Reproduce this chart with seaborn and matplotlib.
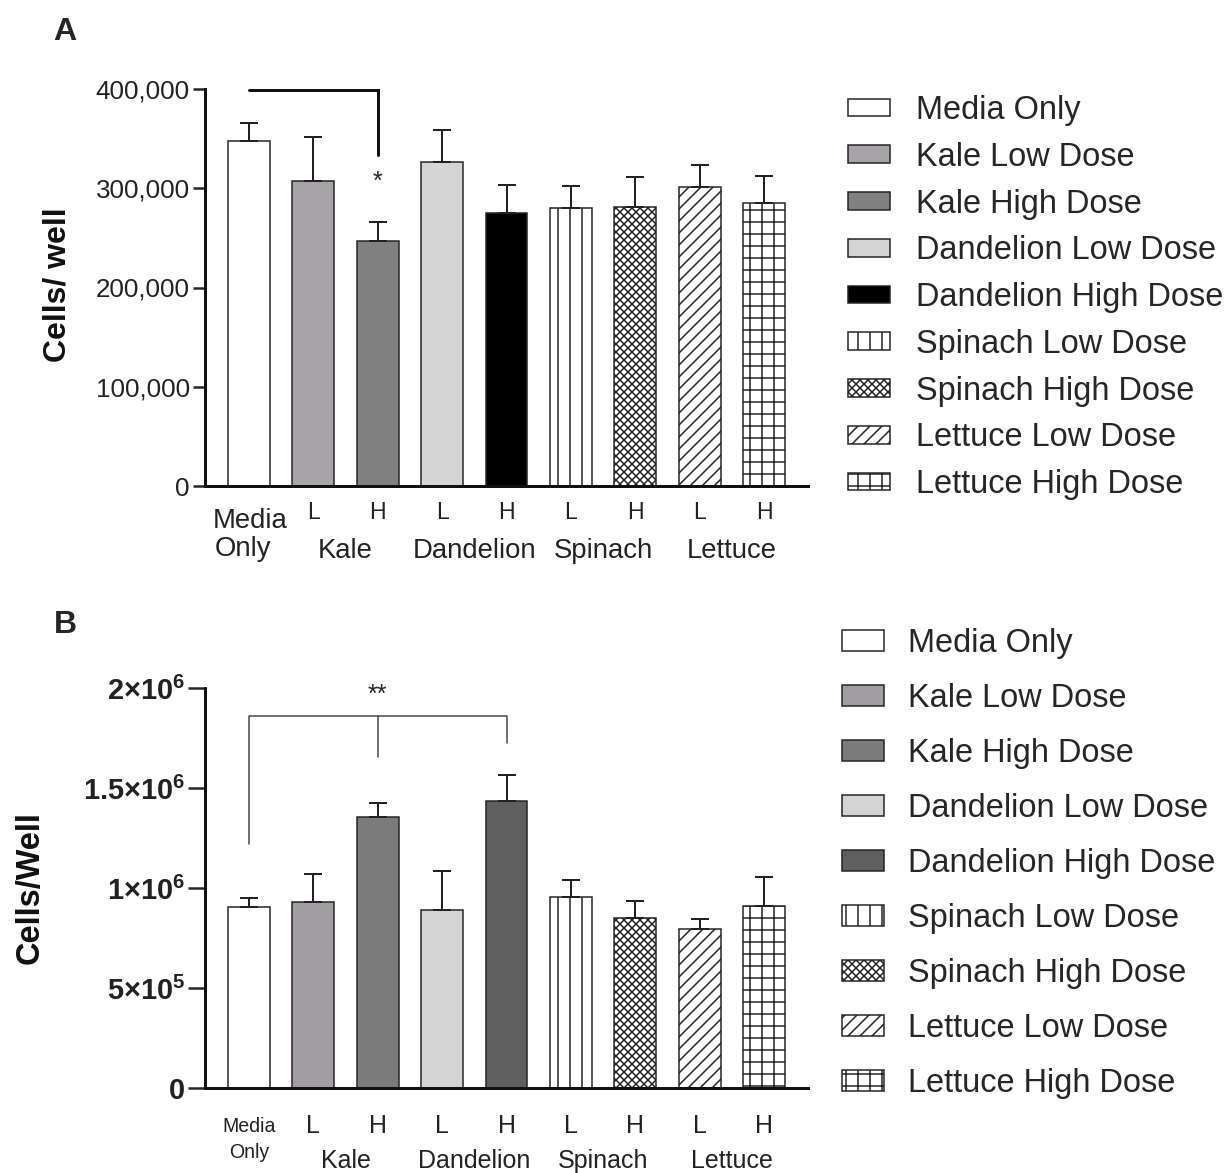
import matplotlib
matplotlib.use("Agg")
import matplotlib.pyplot as plt
import matplotlib.transforms as mtrans
import seaborn as sns
import pandas as pd
import numpy as np

# ---- data ----
groups = ["Media Only", "Kale Low Dose", "Kale High Dose", "Dandelion Low Dose",
          "Dandelion High Dose", "Spinach Low Dose", "Spinach High Dose",
          "Lettuce Low Dose", "Lettuce High Dose"]
dose_row = ["", "L", "H", "L", "H", "L", "H", "L", "H"]
plant_names = ["Kale", "Dandelion", "Spinach", "Lettuce"]
plant_pos = [1.5, 3.5, 5.5, 7.5]

cells_a = [348000, 307000, 246500, 326500, 275000, 280000, 281000, 301000, 285000]
err_a = [18000, 45000, 19500, 32500, 28000, 22000, 30000, 22000, 27000]
ticks_a = [0, 100000, 200000, 300000, 400000]
ticklabels_a = ["0", "100,000", "200,000", "300,000", "400,000"]

cells_b = [905000, 931000, 1356000, 889000, 1434000, 953000, 851000, 796000, 911000]
err_b = [47000, 137000, 70000, 195000, 129000, 86000, 85000, 50000, 142000]
ticks_b = [0, 500000, 1000000, 1500000, 2000000]
ticklabels_b = [r"$\mathbf{0}$", r"$\mathbf{5{\times}10^{5}}$", r"$\mathbf{1{\times}10^{6}}$",
                r"$\mathbf{1.5{\times}10^{6}}$", r"$\mathbf{2{\times}10^{6}}$"]

fills_a = ["white", "#a7a3a8", "#808080", "#d4d4d4", "black", "white", "white", "white", "white"]
fills_b = ["white", "#a19da3", "#7b7b7b", "#d4d4d4", "#5f5f5f", "white", "white", "white", "white"]
hatches = ["", "", "", "", "", "|", "xxx", "//", "+"]

sns.set_style("ticks")
plt.rcParams["font.family"] = ["Liberation Sans", "DejaVu Sans"]
plt.rcParams["mathtext.fontset"] = "custom"
plt.rcParams["mathtext.rm"] = "Liberation Sans"
plt.rcParams["mathtext.bf"] = "Liberation Sans:bold"
plt.rcParams["hatch.linewidth"] = 1.5

W, H = 1231, 1173
fig = plt.figure(figsize=(W / 72, H / 72), dpi=72)
TXT = "#222222"


def fy(py):
    return 1 - py / H


def draw_panel(ax, values, errs, fills):
    df = pd.DataFrame({"group": groups, "cells": values})
    sns.barplot(data=df, x="group", y="cells", hue="group", order=groups, hue_order=groups,
                palette=fills, width=0.65, edgecolor="#222222", linewidth=1.5,
                errorbar=None, legend=False, dodge=False, ax=ax)
    for patch, h in zip(ax.patches, hatches):
        patch.set_hatch(h)
    ax.errorbar(range(len(groups)), values, yerr=[np.zeros(len(errs)), errs], fmt="none",
                ecolor="#222222", elinewidth=2, capsize=9, capthick=2, zorder=1)
    ax.set_xlim(-0.68, 8.68)
    sns.despine(ax=ax)
    for s in ["left", "bottom"]:
        ax.spines[s].set_linewidth(3)
        ax.spines[s].set_color("#111111")
    ax.set_xlabel("")
    ax.set_ylabel("")
    ax.set_xticks(range(len(groups)))
    ax.set_xticklabels([])
    ax.tick_params(axis="x", length=0)
    return ax


# ---------------- panel A ----------------
ax1 = fig.add_axes([205 / W, fy(486), (808 - 205) / W, (486 - 89) / H])
draw_panel(ax1, cells_a, err_a, fills_a)
ax1.set_ylim(0, 400000)
ax1.set_yticks(ticks_a)
ax1.set_yticklabels(ticklabels_a, fontsize=26, color=TXT)
ax1.tick_params(axis="y", length=12, width=2.5, pad=3)

tr1 = mtrans.blended_transform_factory(ax1.transData, fig.transFigure)
for i, lab in enumerate(dose_row):
    ax1.text(i, fy(519), lab, transform=tr1, ha="center", va="baseline", fontsize=23, color=TXT)
for p, name in zip(plant_pos, plant_names):
    ax1.text(p, fy(558), name, transform=tr1, ha="center", va="baseline", fontsize=27.5, color=TXT)
ax1.text(-0.56, fy(528), "Media", transform=tr1, ha="left", va="baseline", fontsize=27.5, color=TXT)
ax1.text(-0.53, fy(556), "Only", transform=tr1, ha="left", va="baseline", fontsize=27.5, color=TXT)

ax1.plot([0, 2, 2], [399000, 399000, 333500], color="#111111", lw=3, clip_on=False, solid_joinstyle="miter")
ax1.text(2, 306000, "*", ha="center", va="center", fontsize=25, color=TXT)

fig.text(58 / W, fy(285), "Cells/ well", rotation=90, ha="center", va="center",
         fontsize=32, fontweight="bold", color="#111111")
fig.text(65 / W, fy(32), "A", ha="center", va="center", fontsize=32, fontweight="bold")

fig.legend(ax1.patches, groups, loc="upper left", bbox_to_anchor=(848 / W, fy(95)),
           frameon=False, fontsize=32.5, handlelength=1.29, handleheight=0.46,
           handletextpad=0.8, labelspacing=0.485, borderpad=0, borderaxespad=0)

# ---------------- panel B ----------------
ax2 = fig.add_axes([205 / W, fy(1088), (808 - 205) / W, (1088 - 688) / H])
draw_panel(ax2, cells_b, err_b, fills_b)
ax2.set_ylim(0, 2000000)
ax2.set_yticks(ticks_b)
ax2.set_yticklabels(ticklabels_b, fontsize=29, color=TXT)
ax2.tick_params(axis="y", length=17, width=2.5, pad=3)

tr2 = mtrans.blended_transform_factory(ax2.transData, fig.transFigure)
for i, lab in enumerate(dose_row):
    ax2.text(i, fy(1133), lab, transform=tr2, ha="center", va="baseline", fontsize=25, color=TXT)
for p, name in zip(plant_pos, plant_names):
    ax2.text(p, fy(1168), name, transform=tr2, ha="center", va="baseline", fontsize=25, color=TXT)
ax2.text(0, fy(1132), "Media", transform=tr2, ha="center", va="baseline", fontsize=19.5, color=TXT)
ax2.text(0, fy(1158), "Only", transform=tr2, ha="center", va="baseline", fontsize=19.5, color=TXT)

ax2.plot([0, 0, 4, 4], [1219000, 1860000, 1860000, 1725000], color="#444444", lw=1.5, clip_on=False)
ax2.plot([2, 2], [1860000, 1655000], color="#444444", lw=1.5, clip_on=False)
ax2.text(2, 1965000, "**", ha="center", va="center", fontsize=25, color=TXT)

fig.text(30 / W, fy(888), "Cells/Well", rotation=90, ha="center", va="center",
         fontsize=32.5, fontweight="bold", color="#111111")
fig.text(65 / W, fy(625), "B", ha="center", va="center", fontsize=32, fontweight="bold")

fig.legend(ax2.patches, groups, loc="upper left", bbox_to_anchor=(842 / W, fy(628)),
           frameon=False, fontsize=32.5, handlelength=1.29, handleheight=0.62,
           handletextpad=0.74, labelspacing=0.737, borderpad=0, borderaxespad=0)

fig.savefig("out.png", dpi=72, facecolor="white")
